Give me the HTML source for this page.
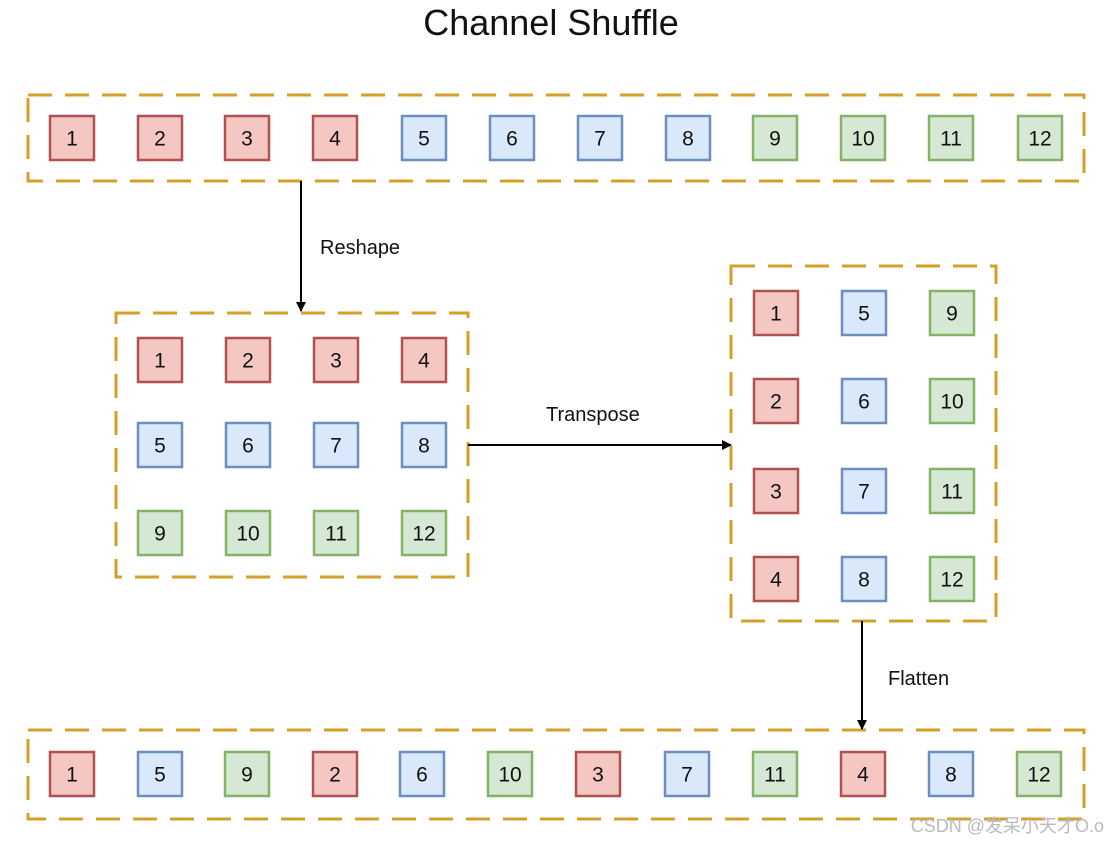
<!DOCTYPE html>
<html><head><meta charset="utf-8"><style>
html,body{margin:0;padding:0;background:#fff;width:1117px;height:843px;overflow:hidden}
svg{display:block}
text{font-family:"Liberation Sans","Noto Sans CJK SC",sans-serif}
.r{fill:#f4c7c3;stroke:#b0514d;stroke-width:2.5}
.b{fill:#dae8fc;stroke:#6c8ebf;stroke-width:2.5}
.g{fill:#d5e8d4;stroke:#82b366;stroke-width:2.5}
.f{fill:none;stroke:#d4a02a;stroke-width:3;stroke-dasharray:24 13}
.n{font-size:21px;fill:#111;text-anchor:middle;dominant-baseline:central}
.l{font-size:20px;fill:#111}
</style></head><body>
<svg width="1117" height="843" viewBox="0 0 1117 843">
<defs><marker id="a" markerWidth="10" markerHeight="10" refX="9" refY="5" orient="auto" markerUnits="userSpaceOnUse"><path d="M0,0 L10,5 L0,10 Z" fill="#000"/></marker></defs>
<text x="551" y="35" font-size="36" text-anchor="middle" fill="#111">Channel Shuffle</text>
<rect class="f" x="28" y="95" width="1056" height="86"/>
<rect class="f" x="116" y="313" width="352" height="264"/>
<rect class="f" x="731" y="266" width="265" height="355"/>
<rect class="f" x="28" y="730" width="1056" height="89"/>
<line x1="301" y1="181" x2="301" y2="311" stroke="#000" stroke-width="2" marker-end="url(#a)"/>
<text class="l" x="320" y="254">Reshape</text>
<line x1="468" y1="445" x2="731" y2="445" stroke="#000" stroke-width="2" marker-end="url(#a)"/>
<text class="l" x="546" y="421">Transpose</text>
<line x1="862" y1="621" x2="862" y2="729" stroke="#000" stroke-width="2" marker-end="url(#a)"/>
<text class="l" x="888" y="685">Flatten</text>
<g id="boxes"></g>
<text x="1104" y="832" font-size="18" fill="#bbb" text-anchor="end">CSDN @发呆小天才O.o</text>
</svg>
<script>
var g=document.getElementById('boxes'),h='';
function B(x,y,n){var c=n<=4?'r':n<=8?'b':'g';h+='<rect class="'+c+'" x="'+(x-22)+'" y="'+(y-22)+'" width="44" height="44"/><text class="n" x="'+x+'" y="'+(y+1)+'">'+n+'</text>';}
var tx=[72,160,247,335,424,512,600,688,775,863,951,1040];
for(var i=0;i<12;i++)B(tx[i],138,i+1);
var mx=[160,248,336,424],my=[360,445,533];
for(var r=0;r<3;r++)for(var c=0;c<4;c++)B(mx[c],my[r],r*4+c+1);
var rx=[776,864,952],ry=[313,401,491,579];
for(var r=0;r<4;r++)for(var c=0;c<3;c++)B(rx[c],ry[r],c*4+r+1);
var bx=[72,160,247,335,422,510,598,687,775,863,951,1039],bo=[1,5,9,2,6,10,3,7,11,4,8,12];
for(var i=0;i<12;i++)B(bx[i],774,bo[i]);
g.innerHTML=h;
</script>
</body></html>
